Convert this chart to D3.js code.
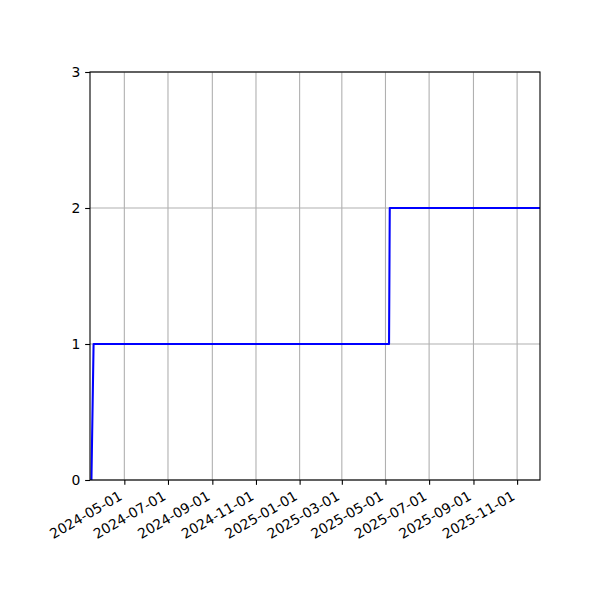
<!DOCTYPE html>
<html>
<head>
<meta charset="utf-8">
<script src="https://cdn.jsdelivr.net/npm/d3@7"></script>
<style>
  body { margin: 0; background: #fff; }
  svg { display: block; }
</style>
</head>
<body>
<div id="container"></div>
<script>
// step data: cumulative count over time
const dates = ['2024-03-16', '2024-03-19', '2025-05-06', '2025-05-07', '2025-12-03'];
const counts = [0, 1, 1, 2, 2];
const xLimits = ['2024-03-14', '2025-12-03'];
const yTicks = [0, 1, 2, 3];

const width = 600;
const height = 600;
const margin = { top: 72, right: 60, bottom: 120, left: 90 };
const fontFamily = "'DejaVu Sans', sans-serif";
const fontPx = 13.9;
const tickLen = 4.86;
const tickPad = 4.86;

const parse = d3.utcParse('%Y-%m-%d');
const points = dates.map((d, i) => ({ date: parse(d), value: counts[i] }));

const svg = d3.select('#container').append('svg').attr('width', width).attr('height', height);

const x = d3
  .scaleUtc()
  .domain(xLimits.map(parse))
  .range([margin.left, width - margin.right]);

const y = d3
  .scaleLinear()
  .domain([0, 3])
  .range([height - margin.bottom, margin.top]);

const x0 = margin.left;
const x1 = width - margin.right;
const y0 = height - margin.bottom;
const y1 = margin.top;

const xTickValues = d3.utcMonth.every(2).range(x.domain()[0], x.domain()[1]);
const fmt = d3.utcFormat('%Y-%m-%d');

// --- Grid ---
const grid = svg.append('g').attr('stroke', '#b0b0b0').attr('stroke-width', 1.1);
grid
  .selectAll('line.gx')
  .data(xTickValues)
  .join('line')
  .attr('x1', (d) => x(d))
  .attr('x2', (d) => x(d))
  .attr('y1', y0)
  .attr('y2', y1);
grid
  .selectAll('line.gy')
  .data(yTicks)
  .join('line')
  .attr('x1', x0)
  .attr('x2', x1)
  .attr('y1', (d) => y(d))
  .attr('y2', (d) => y(d));

// --- Line ---
svg
  .append('clipPath')
  .attr('id', 'clip')
  .append('rect')
  .attr('x', x0)
  .attr('y', y1)
  .attr('width', x1 - x0)
  .attr('height', y0 - y1);

const line = d3
  .line()
  .x((d) => x(d.date))
  .y((d) => y(d.value));

svg
  .append('path')
  .datum(points)
  .attr('clip-path', 'url(#clip)')
  .attr('fill', 'none')
  .attr('stroke', '#0000ff')
  .attr('stroke-width', 2.08)
  .attr('stroke-linejoin', 'round')
  .attr('d', line);

// --- Axes ---
const xAxis = svg
  .append('g')
  .attr('transform', `translate(0,${y0})`)
  .call(d3.axisBottom(x).tickValues(xTickValues).tickFormat(fmt).tickSize(tickLen).tickPadding(0))
  .attr('font-family', fontFamily)
  .attr('font-size', fontPx);
xAxis.select('.domain').remove();
xAxis.selectAll('line').attr('stroke', '#000').attr('stroke-width', 1.1);
// rotated labels, right aligned like autofmt_xdate
const asc = fontPx * 0.76;
const desc = fontPx * 0.24;
xAxis
  .selectAll('text')
  .attr('fill', '#000')
  .attr('text-anchor', 'end')
  .attr('dy', null)
  .attr('y', null)
  .attr(
    'transform',
    `translate(${-0.5 * desc},${tickLen + tickPad + 0.866 * asc}) rotate(-30)`,
  );

const yAxis = svg
  .append('g')
  .attr('transform', `translate(${x0},0)`)
  .call(d3.axisLeft(y).tickValues(yTicks).tickFormat(d3.format('d')).tickSize(tickLen).tickPadding(tickPad))
  .attr('font-family', fontFamily)
  .attr('font-size', fontPx);
yAxis.select('.domain').remove();
yAxis.selectAll('line').attr('stroke', '#000').attr('stroke-width', 1.1);
yAxis.selectAll('text').attr('fill', '#000');

// --- Spines ---
svg
  .append('rect')
  .attr('x', x0)
  .attr('y', y1)
  .attr('width', x1 - x0)
  .attr('height', y0 - y1)
  .attr('fill', 'none')
  .attr('stroke', '#000')
  .attr('stroke-width', 1.1);
</script>
</body>
</html>
